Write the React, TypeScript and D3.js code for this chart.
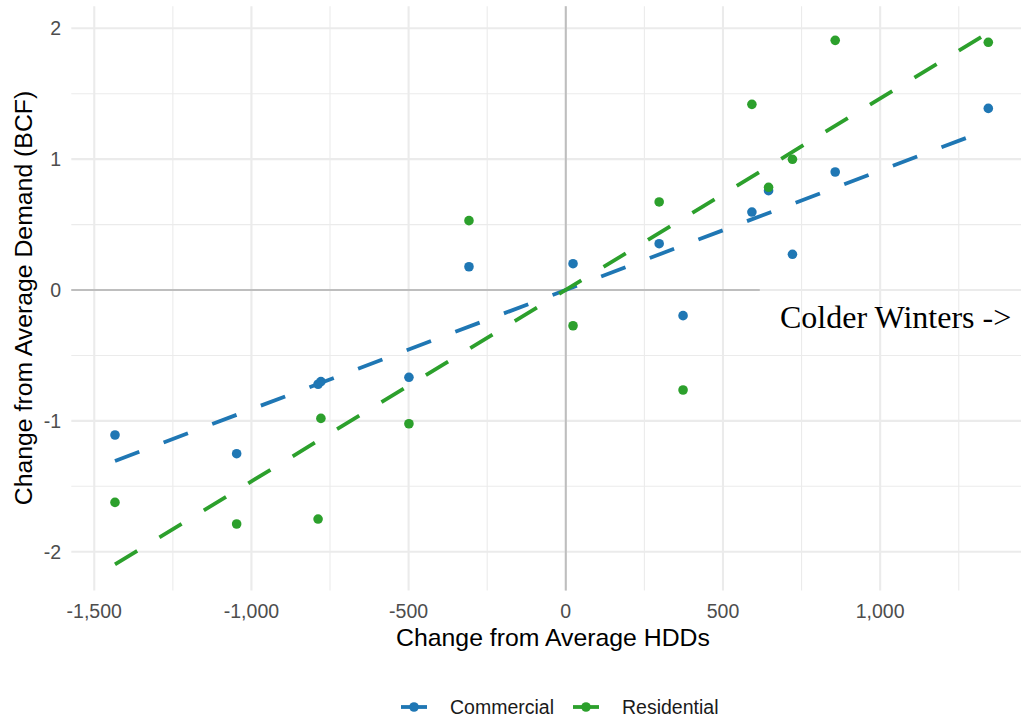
import React from "react";
import * as d3 from "d3";

const hdd = [-1434, -1047, -788, -779, -499, -308, 23, 297, 373, 592, 645, 721, 857, 1344];
const commercial = [-1.108, -1.251, -0.72, -0.70, -0.667, 0.178, 0.201, 0.354, -0.196, 0.596, 0.759, 0.273, 0.902, 1.388];
const residential = [-1.623, -1.788, -1.750, -0.981, -1.022, 0.530, -0.273, 0.673, -0.764, 1.419, 0.785, 0.999, 1.908, 1.893];
const seriesNames = ["Commercial", "Residential"];
const seriesColors = ["#1f77b4", "#2ca02c"];
const xTicks = [-1500, -1000, -500, 0, 500, 1000];
const xMinor = [-1250, -750, -250, 250, 750, 1250];
const yTicks = [-2, -1, 0, 1, 2];
const yMinor = [-1.5, -0.5, 0.5, 1.5];
const annotation = "Colder Winters ->";
const zeroLineEnd = 617;

const W = 1021, H = 720;

function fit(xs: number[], ys: number[]) {
  const mx = d3.mean(xs)!, my = d3.mean(ys)!;
  let sxy = 0, sxx = 0;
  xs.forEach((x, i) => { sxy += (x - mx) * (ys[i] - my); sxx += (x - mx) * (x - mx); });
  const b = sxy / sxx;
  return { a: my - b * mx, b };
}

export default function App() {
  const x = d3.scaleLinear().domain([-1573, 1483]).range([71.3, 1032]);
  const y = d3.scaleLinear().domain([-2.297, 2.169]).range([590.6, 6.2]);
  const fmt = d3.formatLocale({ decimal: ".", thousands: ",", grouping: [3], currency: ["", ""], minus: "-" }).format(",");
  const [x0, x1] = d3.extent(hdd) as [number, number];
  const all = [commercial, residential];
  const font = "Arial, 'Liberation Sans', sans-serif";
  return (
    <svg width={W} height={H} style={{ position: "absolute", left: 0, top: 0 }} fontFamily={font}>
      <rect width={W} height={H} fill="white" />
      {xMinor.map(t => <line key={"xm" + t} x1={x(t)} x2={x(t)} y1={6.2} y2={590.6} stroke="#ebebeb" strokeWidth={1.1} />)}
      {yMinor.map(t => <line key={"ym" + t} x1={71.3} x2={W} y1={y(t)} y2={y(t)} stroke="#ebebeb" strokeWidth={1.1} />)}
      {xTicks.map(t => <line key={"xg" + t} x1={x(t)} x2={x(t)} y1={6.2} y2={590.6} stroke="#ebebeb" strokeWidth={2.1} />)}
      {yTicks.map(t => <line key={"yg" + t} x1={71.3} x2={W} y1={y(t)} y2={y(t)} stroke="#ebebeb" strokeWidth={2.1} />)}
      <line x1={x(0)} x2={x(0)} y1={6.2} y2={590.6} stroke="#bebebe" strokeWidth={2} />
      <line x1={71.3} x2={x(zeroLineEnd)} y1={y(0)} y2={y(0)} stroke="#bebebe" strokeWidth={2} />
      {all.map((ys, si) =>
        ys.map((v, i) => <circle key={si + "-" + i} cx={x(hdd[i])} cy={y(v)} r={4.8} fill={seriesColors[si]} />)
      )}
      {all.map((ys, si) => {
        const { a, b } = fit(hdd, ys);
        return <line key={"fit" + si} x1={x(x0)} y1={y(a + b * x0)} x2={x(x1)} y2={y(a + b * x1)}
          stroke={seriesColors[si]} strokeWidth={3.8} strokeDasharray="26 26" />;
      })}
      <text x={780} y={328} fontFamily="'Times New Roman', 'Liberation Serif', serif" fontSize={32} fill="#000">{annotation}</text>
      {yTicks.map(t => <text key={"yl" + t} x={61} y={y(t) + 7} textAnchor="end" fontSize={19.5} fill="#4d4d4d">{fmt(t)}</text>)}
      {xTicks.map(t => <text key={"xl" + t} x={x(t)} y={618} textAnchor="middle" fontSize={19.5} fill="#4d4d4d">{fmt(t)}</text>)}
      <text x={553} y={646} textAnchor="middle" fontSize={24.8} fill="#000">Change from Average HDDs</text>
      <text transform={`translate(32,298) rotate(-90)`} textAnchor="middle" fontSize={24.8} fill="#000">Change from Average Demand (BCF)</text>
      {seriesNames.map((n, i) => {
        const kx = i === 0 ? 401 : 573;
        return (
          <g key={n}>
            <line x1={kx} x2={kx + 26} y1={707} y2={707} stroke={seriesColors[i]} strokeWidth={3.8} />
            <circle cx={kx + 13} cy={707} r={4.8} fill={seriesColors[i]} />
            <text x={kx + 49} y={714} fontSize={19.5} fill="#1a1a1a">{n}</text>
          </g>
        );
      })}
    </svg>
  );
}
